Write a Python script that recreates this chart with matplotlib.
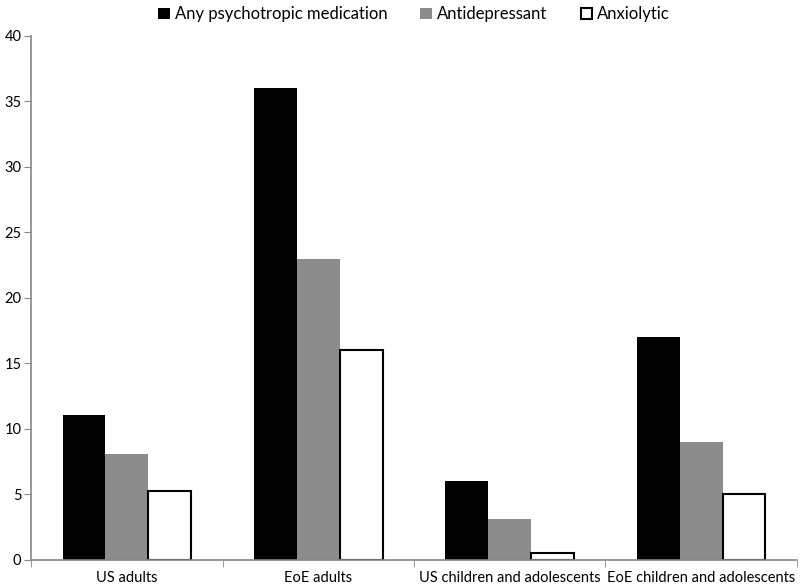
import matplotlib.pyplot as plt
import numpy as np

plt.rcParams['font.family'] = ['Lato', 'DejaVu Sans']

groups = ['US adults', 'EoE adults', 'US children and adolescents', 'EoE children and adolescents']
any_med = [11.1, 36, 6.0, 17]
antidep = [8.1, 23, 3.1, 9]
anxiol = [5.3, 16, 0.5, 5]

fig = plt.figure(figsize=(8, 5.87), dpi=100)
ax = fig.add_axes([0.039, 0.046, 0.957, 0.893])

x = np.arange(len(groups))
w = 0.224
ax.bar(x - w, any_med, w, color='black', label='Any psychotropic medication')
ax.bar(x, antidep, w, color='#8c8c8c', label='Antidepressant')
ax.bar(x + w, anxiol, w, color='white', edgecolor='black', linewidth=1.5,
       label='Anxiolytic')

ax.set_xlim(-0.5, 3.5)
ax.set_ylim(0, 40)
ax.set_yticks(range(0, 41, 5))
ax.set_xticks(x)
ax.set_xticklabels(groups, fontsize=10.5)
ax.tick_params(axis='x', length=0, pad=8)
ax.set_xticks(np.arange(-0.5, 4, 1), minor=True)
ax.tick_params(axis='x', which='minor', length=5, color='#888888', direction='out')
ax.tick_params(axis='y', length=5, color='#888888', labelsize=10.5, pad=2)

for s in ['top', 'right']:
    ax.spines[s].set_visible(False)
for s in ['left', 'bottom']:
    ax.spines[s].set_color('#888888')
    ax.spines[s].set_linewidth(1.2)

ax.legend(loc='upper center', bbox_to_anchor=(0.5, 1.085), ncol=3, frameon=False,
          fontsize=12, handlelength=0.7, handleheight=0.7, handletextpad=0.3,
          columnspacing=2.0)

fig.savefig('out.png', dpi=100)
